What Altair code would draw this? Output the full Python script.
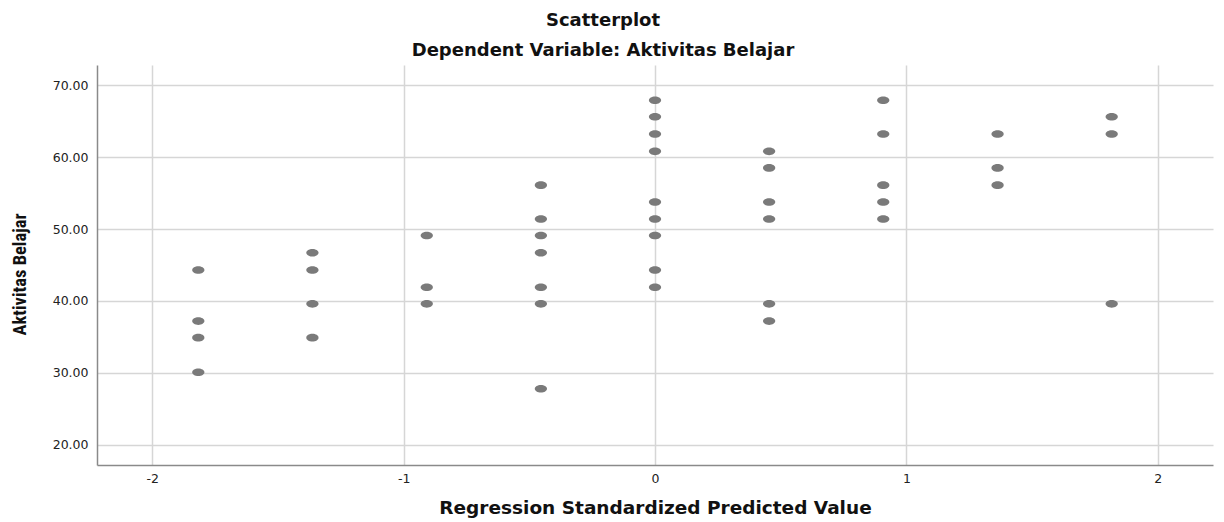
import altair as alt
import pandas as pd

# Regression standardized predicted value (x) columns and observed Aktivitas Belajar (y)
x_levels = [-1.817, -1.363, -0.908, -0.454, 0.0, 0.454, 0.908, 1.363, 1.817]
y_col1 = [44.3, 37.2, 34.9, 30.1]
y_col2 = [46.7, 44.3, 39.6, 34.9]
y_col3 = [49.1, 41.9, 39.6]
y_col4 = [56.1, 51.4, 49.1, 46.7, 41.9, 39.6, 27.8]
y_col5 = [67.9, 65.6, 63.2, 60.8, 53.75, 51.4, 49.1, 44.3, 41.9]
y_col6 = [60.8, 58.5, 53.75, 51.4, 39.6, 37.2]
y_col7 = [67.9, 63.2, 56.1, 53.75, 51.4]
y_col8 = [63.2, 58.5, 56.1]
y_col9 = [65.6, 63.2, 39.6]

x_ticks = [-2, -1, 0, 1, 2]
y_ticks = [20, 30, 40, 50, 60, 70]

cols = [y_col1, y_col2, y_col3, y_col4, y_col5, y_col6, y_col7, y_col8, y_col9]
rows = []
for xv, ys in zip(x_levels, cols):
    for yv in ys:
        rows.append({"pred": xv, "aktivitas": yv})
df = pd.DataFrame(rows)

ellipse = "M-1,0 A1,0.62 0 1,0 1,0 A1,0.62 0 1,0 -1,0 Z"

chart = (
    alt.Chart(df)
    .mark_point(filled=True, shape=ellipse, size=150, color="#7a7a7a", opacity=1)
    .encode(
        x=alt.X(
            "pred:Q",
            scale=alt.Scale(domain=[-2.22, 2.22], nice=False, zero=False),
            axis=alt.Axis(
                values=x_ticks,
                labelExpr="'' + datum.value",
                title="Regression Standardized Predicted Value",
                titleX=558,
                titleY=48,
                titleAlign="center",
                titleBaseline="alphabetic",
                labelPadding=7,
            ),
        ),
        y=alt.Y(
            "aktivitas:Q",
            scale=alt.Scale(domain=[17.2, 72.8], nice=False, zero=False),
            axis=alt.Axis(
                values=y_ticks,
                format=".2f",
                title="Aktivitas Belajar",
                titleX=-72,
                titleY=209,
                titleAngle=-90,
                titleAlign="center",
                titleBaseline="alphabetic",
                titleFont="Liberation Sans Narrow, Roboto Condensed, Liberation Sans",
                titleFontSize=18.5,
                labelPadding=9,
            ),
        ),
    )
    .properties(
        width=1116,
        height=400,
        autosize=alt.AutoSizeParams(type="none"),
        padding={"left": 89, "top": 57, "right": 3, "bottom": 55},
        title=alt.TitleParams(
            text=["Scatterplot", "Dependent Variable: Aktivitas Belajar"],
            anchor="middle",
            dx=-52,
            offset=5,
            lineHeight=30,
            font="DejaVu Sans",
            fontSize=18,
            fontWeight="bold",
            color="#111111",
        ),
    )
    .configure_view(stroke=None)
    .configure_axis(
        grid=True,
        gridColor="#d6d6d6",
        gridWidth=1.5,
        domainColor="#8a8a8a",
        domainWidth=1.5,
        ticks=False,
        labelFont="DejaVu Sans",
        labelFontSize=12.5,
        labelColor="#222222",
        titleFont="DejaVu Sans",
        titleFontSize=18.5,
        titleFontWeight="bold",
        titleColor="#111111",
    )
)

chart.save("out.html", embed_options={"renderer": "svg", "actions": False})
